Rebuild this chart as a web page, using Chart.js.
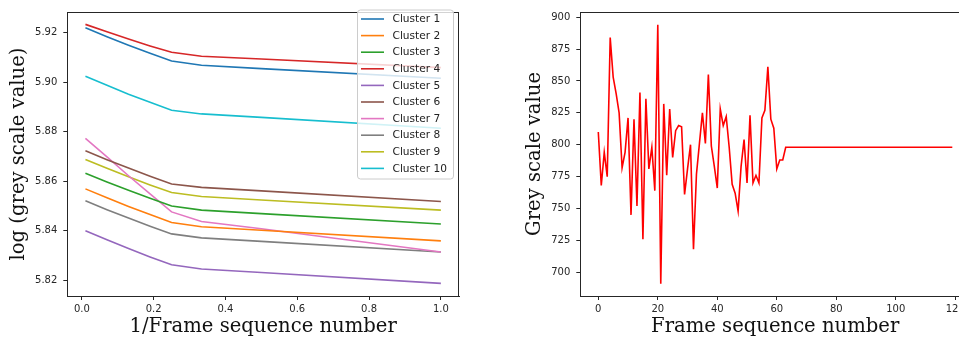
<!DOCTYPE html>
<html>
<head>
<meta charset="utf-8">
<script src="https://cdn.jsdelivr.net/npm/chart.js@4.4.0/dist/chart.umd.min.js"></script>
<style>
  html, body { margin: 0; padding: 0; background: #fff; overflow: hidden; width: 959px; height: 339px; }
  #wrapL { position: absolute; left: 0; top: 0; width: 470px; height: 339px; }
  #wrapR { position: absolute; left: 480px; top: 0; width: 492px; height: 339px; }
</style>
</head>
<body>
<div id="wrapL"><canvas id="left" width="470" height="339"></canvas></div>
<div id="wrapR"><canvas id="right" width="492" height="339"></canvas></div>
<script>
// ---------- Left chart data ----------
const invFrame = [0.01, 0.07, 0.13, 0.19, 0.25, 0.3333, 0.5, 1.0];
const clusterLabels = ['Cluster 1','Cluster 2','Cluster 3','Cluster 4','Cluster 5','Cluster 6','Cluster 7','Cluster 8','Cluster 9','Cluster 10'];
const cluster1  = [5.9220, 5.9184, 5.9150, 5.9117, 5.9086, 5.9069, 5.9055, 5.9016];
const cluster2  = [5.8569, 5.8533, 5.8498, 5.8465, 5.8433, 5.8416, 5.8402, 5.8359];
const cluster3  = [5.8632, 5.8597, 5.8563, 5.8531, 5.8500, 5.8483, 5.8469, 5.8427];
const cluster4  = [5.9234, 5.9204, 5.9175, 5.9147, 5.9121, 5.9105, 5.9094, 5.9059];
const cluster5  = [5.8400, 5.8363, 5.8328, 5.8294, 5.8262, 5.8245, 5.8231, 5.8187];
const cluster6  = [5.8723, 5.8687, 5.8653, 5.8620, 5.8589, 5.8575, 5.8561, 5.8518];
const cluster7  = [5.8773, 5.8698, 5.8622, 5.8549, 5.8476, 5.8437, 5.8408, 5.8314];
const cluster8  = [5.8521, 5.8485, 5.8451, 5.8418, 5.8387, 5.8371, 5.8357, 5.8314];
const cluster9  = [5.8688, 5.8652, 5.8618, 5.8585, 5.8554, 5.8538, 5.8524, 5.8483];
const cluster10 = [5.9024, 5.8988, 5.8952, 5.8919, 5.8887, 5.8872, 5.8858, 5.8814];
const leftXTicks = [0.0, 0.2, 0.4, 0.6, 0.8, 1.0];
const leftYTicks = [5.82, 5.84, 5.86, 5.88, 5.90, 5.92];

// ---------- Right chart data ----------
const greyValues = [
  810, 768, 794, 775, 884, 853, 840, 825, 782, 794,
  821, 745, 820, 752, 841, 726, 836, 781, 798, 764,
  894, 691, 832, 776, 828, 790, 811, 815, 814, 761,
  781, 800, 718, 777, 801, 825, 801, 855, 799, 783,
  766, 828, 815, 822, 798, 769, 762, 748, 783, 804,
  770, 823, 770, 776, 770, 821, 827, 861, 820, 813,
  781, 788, 788, 798, 798, 798, 798, 798, 798, 798,
  798, 798, 798, 798, 798, 798, 798, 798, 798, 798,
  798, 798, 798, 798, 798, 798, 798, 798, 798, 798,
  798, 798, 798, 798, 798, 798, 798, 798, 798, 798,
  798, 798, 798, 798, 798, 798, 798, 798, 798, 798,
  798, 798, 798, 798, 798, 798, 798, 798, 798, 798
];
const rightXTicks = [0, 20, 40, 60, 80, 100, 120];
const rightYTicks = [700, 725, 750, 775, 800, 825, 850, 875, 900];

const tab10 = ['#1f77b4','#ff7f0e','#2ca02c','#d62728','#9467bd','#8c564b','#e377c2','#7f7f7f','#bcbd22','#17becf'];
const clusters = [cluster1, cluster2, cluster3, cluster4, cluster5, cluster6, cluster7, cluster8, cluster9, cluster10];

const tickFont = { family: 'DejaVu Sans', size: 10 };
const titleFont = { family: 'DejaVu Serif', size: 19.6, lineHeight: 1 };
const axisColor = '#262626';

const boxPlugin = {
  id: 'box',
  afterDatasetsDraw(chart) {
    const { ctx, chartArea: a } = chart;
    ctx.save();
    ctx.strokeStyle = axisColor;
    ctx.lineWidth = 1;
    ctx.beginPath();
    ctx.moveTo(a.left, a.top + 0.5);
    ctx.lineTo(a.right, a.top + 0.5);
    ctx.moveTo(a.right - 0.5, a.top);
    ctx.lineTo(a.right - 0.5, a.bottom);
    ctx.stroke();
    ctx.restore();
  }
};

const legendPlugin = {
  id: 'innerLegend',
  afterDraw(chart) {
    const { ctx } = chart;
    const x0 = 357.5, y0 = 10, w = 96, h = 169;
    ctx.save();
    ctx.fillStyle = 'rgba(255,255,255,0.8)';
    ctx.strokeStyle = '#cccccc';
    ctx.lineWidth = 1;
    ctx.beginPath();
    ctx.roundRect(x0, y0, w, h, 3);
    ctx.fill();
    ctx.stroke();
    ctx.font = '10.6px "DejaVu Sans"';
    ctx.textBaseline = 'middle';
    chart.data.datasets.forEach((ds, i) => {
      const y = 19 + i * 16.6;
      ctx.strokeStyle = ds.borderColor;
      ctx.lineWidth = 1.6;
      ctx.beginPath();
      ctx.moveTo(361, y);
      ctx.lineTo(384, y);
      ctx.stroke();
      ctx.fillStyle = '#222';
      ctx.fillText(ds.label, 392.5, y + 0.5);
    });
    ctx.restore();
  }
};

function setTicks(arr) {
  return function (scale) { scale.ticks = arr.map(v => ({ value: v })); };
}

// ---------- Left chart ----------
new Chart(document.getElementById('left'), {
  type: 'line',
  data: {
    datasets: clusters.map((vals, i) => ({
      label: clusterLabels[i],
      data: invFrame.map((x, j) => ({ x: x, y: vals[j] })),
      borderColor: tab10[i],
      borderWidth: 1.6,
      pointRadius: 0,
      tension: 0,
      fill: false
    }))
  },
  options: {
    responsive: false,
    animation: false,
    devicePixelRatio: 1,
    layout: { padding: { top: 4.7, right: 11, left: 0, bottom: 0 } },
    plugins: { legend: { display: false }, tooltip: { enabled: false } },
    scales: {
      x: {
        type: 'linear', min: -0.0405, max: 1.0505,
        afterBuildTicks: setTicks(leftXTicks),
        afterFit(s) { s.height = 43; },
        ticks: { font: tickFont, color: axisColor, padding: 3, maxRotation: 0, autoSkip: false, callback: v => v.toFixed(1) },
        grid: { display: true, drawOnChartArea: false, drawTicks: true, tickLength: 4, tickColor: axisColor },
        border: { display: true, color: axisColor, width: 1 },
        title: { display: true, text: '1/Frame sequence number', font: titleFont, color: '#111', padding: { top: 0, bottom: 2.5 } }
      },
      y: {
        type: 'linear', min: 5.8136, max: 5.9284,
        afterBuildTicks: setTicks(leftYTicks),
        afterFit(s) { s.width = 67.3; },
        ticks: { font: tickFont, color: axisColor, padding: 6, autoSkip: false, callback: v => v.toFixed(2) },
        grid: { display: true, drawOnChartArea: false, drawTicks: true, tickLength: 4, tickColor: axisColor },
        border: { display: true, color: axisColor, width: 1 },
        title: { display: true, text: 'log (grey scale value)', font: titleFont, color: '#111', padding: { top: 9.4, bottom: 0 } }
      }
    }
  },
  plugins: [boxPlugin, legendPlugin]
});

// ---------- Right chart ----------
new Chart(document.getElementById('right'), {
  type: 'line',
  data: {
    datasets: [{
      label: 'Grey scale value',
      data: greyValues.map((v, i) => ({ x: i, y: v })),
      borderColor: '#ff0000',
      borderWidth: 1.6,
      pointRadius: 0,
      tension: 0,
      fill: false
    }]
  },
  options: {
    responsive: false,
    animation: false,
    devicePixelRatio: 1,
    layout: { padding: { top: 4.7, right: 2, left: 0, bottom: 0 } },
    plugins: { legend: { display: false }, tooltip: { enabled: false } },
    scales: {
      x: {
        type: 'linear', min: -6.05, max: 124.95,
        afterBuildTicks: setTicks(rightXTicks),
        afterFit(s) { s.height = 43; },
        ticks: { font: tickFont, color: axisColor, padding: 3, maxRotation: 0, autoSkip: false, callback: v => String(v) },
        grid: { display: true, drawOnChartArea: false, drawTicks: true, tickLength: 4, tickColor: axisColor },
        border: { display: true, color: axisColor, width: 1 },
        title: { display: true, text: 'Frame sequence number', font: titleFont, color: '#111', padding: { top: 0, bottom: 2.5 } }
      },
      y: {
        type: 'linear', min: 681.4, max: 904.05,
        afterBuildTicks: setTicks(rightYTicks),
        afterFit(s) { s.width = 100.3; },
        ticks: { font: tickFont, color: axisColor, padding: 6, autoSkip: false, callback: v => String(v) },
        grid: { display: true, drawOnChartArea: false, drawTicks: true, tickLength: 4, tickColor: axisColor },
        border: { display: true, color: axisColor, width: 1 },
        title: { display: true, text: 'Grey scale value', font: titleFont, color: '#111', padding: { top: 44.7, bottom: 0 } }
      }
    }
  },
  plugins: [boxPlugin]
});
</script>
</body>
</html>
